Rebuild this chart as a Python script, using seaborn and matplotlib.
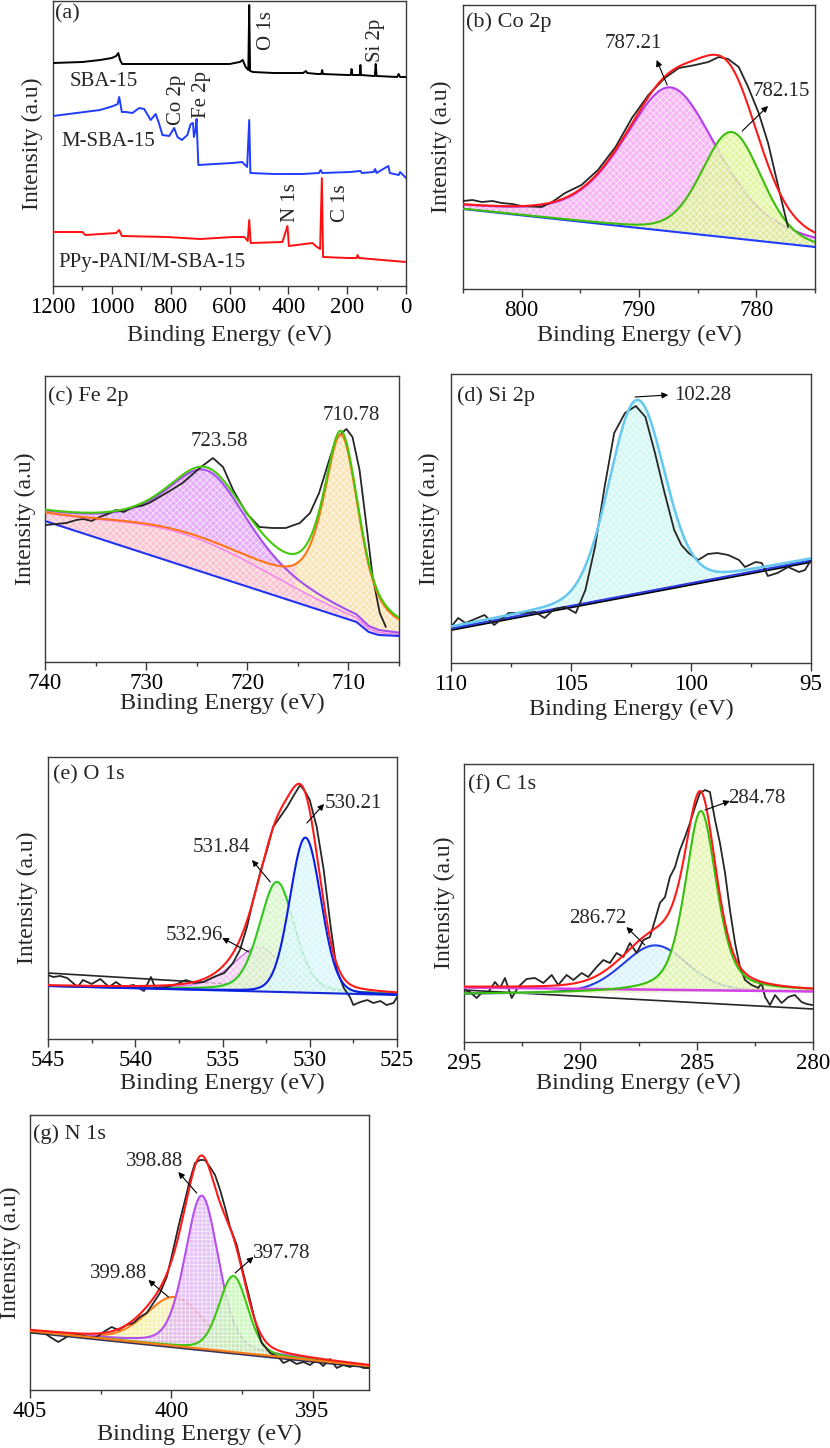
import numpy as np
import matplotlib
matplotlib.use("Agg")
import matplotlib.pyplot as plt
from matplotlib.ticker import MultipleLocator
import seaborn as sns

# ---------------- (a) survey spectra (binding energy eV, intensity a.u.)
sba_energy = [1200, 1100, 1040, 1000, 985, 978, 972, 965, 900, 800, 700, 600, 565, 555, 545, 536,
              533, 530, 520, 450, 350, 340, 336, 300, 288, 285, 282, 200, 188, 185, 182, 160, 157,
              155, 153, 110, 106, 103, 100, 30, 25, 20, 0]
sba_counts = [223, 224, 226, 228, 230, 233, 226, 222, 222, 222, 222, 222, 224, 226, 219, 216,
              281, 215, 214, 213, 213, 215, 213, 212, 212, 216, 212, 211, 211, 217, 211, 211, 211,
              221, 211, 210, 210, 222, 210, 209, 212, 209, 209]

msba_energy = [1200, 1040, 995, 980, 975, 966, 952, 930, 907, 890, 868, 851, 840, 828, 805, 788,
               777, 762, 743, 732, 724, 721, 715, 712, 706, 650, 591, 557, 540, 533, 529, 450,
               350, 296, 290, 285, 190, 155, 150, 110, 105, 100, 66, 60, 55, 25, 20, 0]
msba_counts = [170, 176, 180, 182, 189, 174, 174, 173, 178, 177, 166, 172, 163, 151, 150, 158,
               149, 146, 151, 162, 163, 149, 157, 167, 121, 122, 123, 124, 119, 166, 113, 112,
               112, 113, 116, 113, 114, 115, 113, 114, 117, 113, 119, 120, 113, 111, 114, 108]

ppy_energy = [1200, 1100, 1090, 985, 975, 966, 813, 700, 587, 549, 538, 533, 528, 420, 403, 398,
              318, 307, 292, 286, 282, 200, 168, 165, 160, 0]
ppy_counts = [54, 54, 51, 53, 56, 50, 49, 47, 49, 49, 45, 66, 43, 44, 60, 40,
              43, 40, 37, 108, 29, 28, 28, 31, 28, 24]

survey_names = ["SBA-15", "M-SBA-15", "PPy-PANI/M-SBA-15"]
survey_peaks = ["O 1s", "Si 2p", "Co 2p", "Fe 2p", "N 1s", "C 1s"]

# ---------------- (b) Co 2p
b_energy = [805.0, 804.2, 803.4, 802.5, 801.7, 800.8, 800.0, 798.3, 797.4, 796.3, 794.9, 793.5,
            792.0, 790.6, 789.2, 787.8, 786.6, 785.2, 784.1, 783.2, 782.4, 781.5, 780.7, 779.8,
            779.0, 778.4, 777.8, 777.3]
b_counts = [88, 89, 87, 88, 86, 85, 83, 82, 87, 96, 104, 119, 142, 171, 194, 211, 221, 224, 227,
            232, 230, 222, 202, 176, 146, 116, 86, 62]
b_bg = [80, 42]
b_centers = [787.3, 782.1]
b_heights = [144, 106]
b_fwhm = [9.6, 6.0]
b_mix = [0.45, 0.2]

# ---------------- (c) Fe 2p
c_energy = [739.9, 737.9, 736.9, 736.2, 735.4, 734.6, 733.8, 733.0, 732.2, 731.3, 730.5, 729.7,
            728.0, 726.4, 724.7, 723.4, 722.4, 721.4, 720.1, 718.8, 717.5, 716.2, 714.8, 713.8,
            712.9, 711.9, 711.2, 710.2, 709.6, 708.9, 708.2, 707.6, 706.9, 706.3]
c_counts = [137, 139, 142, 143, 141, 145, 148, 152, 150, 155, 156, 159, 169, 179, 194, 204, 195,
            172, 149, 135, 134, 134, 139, 149, 169, 202, 224, 233, 225, 192, 135, 85, 49, 35]
c_bg_energy = [740, 709.2, 708.0, 707.0, 705.0]
c_bg_counts = [141, 40, 30, 27, 26]
c_centers = [710.7, 726.0, 723.9]     # 2p3/2, broad hump, 2p1/2
c_heights = [176, 32, 72]
c_fwhm = [4.2, 20.0, 9.0]
c_mix = [0.7, 0.0, 0.5]

# ---------------- (d) Si 2p
d_energy = [110.0, 109.7, 109.4, 109.0, 108.6, 108.2, 107.6, 107.1, 106.5, 106.1, 105.7, 105.25,
            104.8, 104.4, 104.0, 103.6, 103.2, 102.75, 102.3, 101.9, 101.5, 101.1, 100.7, 100.4,
            100.1, 99.7, 99.3, 98.9, 98.45, 98.0, 97.75, 97.3, 97.05, 96.8, 96.4, 95.95, 95.5,
            95.25, 95.0]
d_counts = [36, 45, 40, 44, 48, 38, 50, 50, 51, 45, 54, 56, 50, 73, 116, 176, 230, 250, 257, 246,
            210, 170, 133, 118, 110, 103, 109, 110, 108, 103, 96, 101, 100, 87, 90, 96, 91, 93, 103]
d_bg = [36, 104]
d_center, d_height, d_fwhm_val, d_mix_val = 102.26, 192, 2.7, 0.1

# ---------------- (e) O 1s
e_energy = [545.0, 544.7, 544.3, 543.9, 543.3, 543.0, 542.5, 542.0, 541.5, 541.1, 540.7, 540.1,
            539.5, 539.1, 538.85, 538.2, 537.6, 537.1, 536.65, 536.1, 535.5, 534.9, 534.4, 534.0,
            533.6, 533.2, 532.8, 532.45, 532.1, 531.7, 531.3, 530.9, 530.55, 530.25, 530.0, 529.6,
            529.2, 528.8, 528.45, 528.05, 527.7, 527.5, 527.1, 526.7, 526.35, 525.95, 525.6, 525.2,
            525.0]
e_counts = [64, 62, 63, 61, 52, 59, 55, 60, 52, 57, 52, 54, 48, 62, 51, 52, 55, 59, 56, 57, 62, 66,
            76, 89, 112, 142, 169, 189, 212, 222, 232, 244, 254, 247, 239, 212, 169, 112, 69, 51,
            42, 34, 37, 39, 36, 38, 34, 36, 42]
e_bg = [53, 44]
e_centers = [530.25, 531.88, 532.93]
e_heights = [155, 110, 44]
e_fwhm = [2.1, 2.4, 3.6]
e_mix = [0.1, 0.3, 0.5]

# ---------------- (f) C 1s
f_energy = [295.0, 294.74, 294.46, 294.24, 293.95, 293.67, 293.45, 293.24, 292.95, 292.67, 292.31,
            291.95, 291.59, 291.23, 290.95, 290.59, 290.30, 289.94, 289.66, 289.30, 289.01, 288.73,
            288.44, 288.15, 287.87, 287.58, 287.29, 287.01, 286.79, 286.58, 286.36, 286.15, 285.93,
            285.72, 285.50, 285.29, 285.07, 284.86, 284.64, 284.43, 284.21, 284.0, 283.78, 283.57,
            283.35, 283.14, 282.92, 282.64, 282.35, 282.21, 282.06, 281.85, 281.63, 281.35, 281.06,
            280.78, 280.49, 280.27, 280.03]
f_counts = [52, 50, 44, 49, 50, 60, 54, 64, 44, 55, 63, 64, 59, 67, 57, 67, 62, 69, 65, 75, 82, 79,
            89, 85, 99, 89, 102, 105, 122, 139, 145, 165, 175, 192, 205, 219, 235, 249, 252, 250,
            222, 199, 169, 132, 99, 75, 62, 57, 54, 59, 45, 37, 47, 39, 45, 47, 40, 38, 37]
f_bg = [48, 51]
f_top_bg = [54.5, 50.5]
f_raw_bg = [52, 33]
f_centers = [284.82, 286.79]
f_heights = [181, 47]
f_fwhm = [1.6, 3.3]
f_mix = [0.5, 0.2]

# ---------------- (g) N 1s
g_energy = [405.0, 404.76, 404.53, 404.29, 404.0, 403.76, 403.53, 403.23, 402.94, 402.64, 402.40,
            402.11, 401.87, 401.58, 401.34, 401.11, 400.87, 400.63, 400.40, 400.16, 399.99, 399.87,
            399.69, 399.51, 399.34, 399.16, 398.98, 398.81, 398.63, 398.45, 398.27, 398.10, 397.92,
            397.68, 397.45, 397.21, 397.04, 396.80, 396.50, 396.21, 396.03, 395.80, 395.56, 395.32,
            395.09, 394.85, 394.62, 394.38, 394.14, 393.91, 393.67, 393.44, 393.20, 393.01]
g_counts = [58, 57, 58, 53, 48, 52, 57, 55, 53, 53, 58, 63, 60, 65, 67, 73, 77, 87, 97, 113, 133,
            148, 170, 190, 210, 227, 230, 230, 223, 215, 200, 183, 163, 145, 117, 90, 70, 47, 37,
            33, 27, 30, 26, 28, 25, 30, 24, 31, 22, 25, 23, 26, 22, 22]
g_bg = [59, 24]
g_centers = [398.92, 397.80, 399.87]
g_heights = [153, 76, 49]
g_fwhm = [1.4, 1.2, 2.4]
g_mix = [0.3, 0.2, 0.2]

sns.set_theme(style="ticks")
plt.rcParams["font.family"] = ["Liberation Serif", "DejaVu Serif"]
plt.rcParams["hatch.linewidth"] = 0.5
plt.rcParams["axes.edgecolor"] = "#3a3a3a"
plt.rcParams["xtick.color"] = "#3a3a3a"
plt.rcParams["xtick.labelcolor"] = "black"

RED = "#ff1a1a"
RAW = "#262626"


def pvoigt(x, center, height, fwhm, eta):
    g = np.exp(-4 * np.log(2) * ((x - center) / fwhm) ** 2)
    l = 1 / (1 + (2 * (x - center) / fwhm) ** 2)
    return height * ((1 - eta) * g + eta * l)


def line(ax, x, y, color, lw=1.5, z=4):
    sns.lineplot(x=np.asarray(x), y=np.asarray(y), ax=ax, color=color, linewidth=lw,
                 estimator=None, sort=False, legend=False, zorder=z)


def fill(ax, x, lo, hi, color, z=1, hatch="xxxxx", where=None):
    ax.fill_between(x, lo, hi, where=where, facecolor=color, edgecolor="white", hatch=hatch,
                    linewidth=0, alpha=0.8, zorder=z)


def arrow(ax, tail, head):
    ax.annotate("", xy=head, xytext=tail,
                arrowprops=dict(arrowstyle="-|>", color="black", lw=0.8, mutation_scale=9,
                                shrinkA=0, shrinkB=0), zorder=8)


def style(ax, xlim, ylim, major, minor, title, tx, ty, ylab_x, xpad):
    ax.set_xlim(*xlim)
    ax.set_ylim(*ylim)
    ax.set_yticks([])
    ax.xaxis.set_major_locator(MultipleLocator(major))
    ax.xaxis.set_minor_locator(MultipleLocator(minor))
    ax.tick_params(axis="x", which="major", length=6, width=1, direction="out", labelsize=16.5, pad=2)
    ax.tick_params(axis="x", which="minor", length=3, width=1, direction="out")
    for s in ax.spines.values():
        s.set_linewidth(1.0)
    ax.set_xlabel("Binding Energy (eV)", fontsize=17.5, labelpad=xpad)
    ax.set_ylabel("Intensity (a.u)", fontsize=17, va="center")
    ax.yaxis.set_label_coords(ylab_x, 0.5)
    ax.text(tx, ty, title, transform=ax.transAxes, fontsize=16, ha="left", va="top", zorder=9)


W, H = 830, 1448
fig = plt.figure(figsize=(W / 100, H / 100), dpi=100)


def make_axes(x0, x1, y0, y1):
    return fig.add_axes([x0 / W, 1 - y1 / H, (x1 - x0) / W, (y1 - y0) / H])


# ---------------- (a)
ax = make_axes(53, 406, 1, 286)
line(ax, sba_energy, sba_counts, "black", lw=1.4)
line(ax, msba_energy, msba_counts, "#1f3cff", lw=1.4)
line(ax, ppy_energy, ppy_counts, "#ff1010", lw=1.4)
for name, xx, yy in zip(survey_names, [1142, 1173, 1183], [205, 144, 24]):
    ax.text(xx, yy, name, fontsize=15, ha="left", va="center")
for name, xx, yy in zip(survey_peaks, [473, 105, 779, 694, 394, 224], [236, 224, 161, 168, 64, 64]):
    ax.text(xx, yy, name, fontsize=15, rotation=90, ha="center", va="bottom")
style(ax, (1200, 0), (0, 285), 200, 100, "(a)", 0.006, 0.99, -0.057, 5)

# ---------------- (b)
ax = make_axes(463, 815, 5, 289)
xb = np.linspace(805, 775, 700)
bgb = np.interp(xb, [775, 805], b_bg[::-1])
pb = [pvoigt(xb, c, h, w, m) for c, h, w, m in zip(b_centers, b_heights, b_fwhm, b_mix)]
fill(ax, xb, bgb, bgb + pb[0], "#f7a3f0", z=1)
line(ax, xb, bgb + pb[0], "#b53cf2", z=1.5)
fill(ax, xb, bgb, bgb + pb[1], "#daf58e", z=2)
line(ax, xb, bgb, "#1f3cff", z=2.5)
line(ax, xb, bgb + pb[1], "#3cbf0a", z=3)
line(ax, b_energy, b_counts, RAW, lw=1.3, z=3.5)
line(ax, xb, bgb + pb[0] + pb[1], RED, z=4)
ax.text(790.5, 245, "787.21", fontsize=15, ha="center", va="center")
arrow(ax, (787.6, 204), (788.5, 229))
ax.text(777.85, 198, "782.15", fontsize=15, ha="center", va="center")
arrow(ax, (781.2, 158), (779.0, 183))
style(ax, (805, 775), (0, 284), 10, 5, "(b) Co 2p", 0.008, 0.975, -0.06, 3)

# ---------------- (c)
ax = make_axes(45, 399, 376, 662)
xc = np.linspace(740, 705, 700)
bgc = np.interp(xc, c_bg_energy[::-1], c_bg_counts[::-1])
main, hump, p12 = [pvoigt(xc, c, h, w, m) for c, h, w, m in zip(c_centers, c_heights, c_fwhm, c_mix)]
pink = bgc + hump
orange = bgc + hump + main
purple = bgc + hump + p12
envelope = bgc + hump + main + p12
fill(ax, xc, bgc, pink, "#fbb6c6", z=1)
fill(ax, xc, pink, orange, "#fbb6c6", z=1, where=xc >= 715)
fill(ax, xc, pink, orange, "#f9dfa6", z=1.2, where=xc <= 715.3)
fill(ax, xc, orange, purple, "#e29bf7", z=1.4, where=purple >= orange)
line(ax, xc, pink, "#f27ef0", lw=1.0, z=1.6)
line(ax, xc, bgc, "#2233ee", z=2)
line(ax, xc, purple, "#a54ff2", z=2.5)
line(ax, c_energy, c_counts, RAW, lw=1.3, z=3)
line(ax, xc, orange, "#ff7417", z=3.5)
line(ax, xc, envelope, "#44c80a", z=4)
ax.text(722.8, 220, "723.58", fontsize=15, ha="center", va="center")
ax.text(709.7, 247, "710.78", fontsize=15, ha="center", va="center")
style(ax, (740, 705), (0, 286), 10, 5, "(c) Fe 2p", 0.009, 0.965, -0.0565, -1)

# ---------------- (d)
ax = make_axes(451, 811, 374, 663)
xd = np.linspace(110, 95, 600)
bgd = np.interp(xd, [95, 110], d_bg[::-1])
pd_ = pvoigt(xd, d_center, d_height, d_fwhm_val, d_mix_val)
fill(ax, xd, bgd, bgd + pd_, "#c9f6f0", z=1)
line(ax, xd, bgd - 3, "black", z=2)
line(ax, xd, bgd - 1.5, "#2a3ce0", z=2.2)
line(ax, d_energy, d_counts, RAW, lw=1.3, z=3)
line(ax, xd, bgd + pd_, "#66c8ee", lw=1.8, z=4)
ax.text(99.52, 268, "102.28", fontsize=15, ha="center", va="center")
arrow(ax, (102.33, 266), (100.95, 268))
style(ax, (110, 95), (0, 289), 5, 2.5, "(d) Si 2p", 0.016, 0.958, -0.061, 3)

# ---------------- (e)
ax = make_axes(48, 397, 757, 1039)
xe = np.linspace(545, 525, 700)
bge = np.interp(xe, [525, 545], e_bg[::-1])
pe = [pvoigt(xe, c, h, w, m) for c, h, w, m in zip(e_centers, e_heights, e_fwhm, e_mix)]
line(ax, xe, np.interp(xe, [525, 545], [45, 66]), RAW, lw=1.2, z=0.8)
fill(ax, xe, bge, bge + pe[2], "#f6c2f4", z=1)
line(ax, xe, bge + pe[2], "#d27ff0", lw=1.2, z=1.5)
fill(ax, xe, bge, bge + pe[1], "#d4f6c2", z=2)
line(ax, xe, bge + pe[1], "#2ec81e", z=2.5)
fill(ax, xe, bge, bge + pe[0], "#d2f6fb", z=3)
line(ax, e_energy, e_counts, RAW, lw=1.3, z=3.2)
line(ax, xe, bge, "#1428d8", z=3.4)
line(ax, xe, bge + pe[0], "#0a1ee6", z=3.5)
line(ax, xe, bge + pe[0] + pe[1] + pe[2], RED, z=4)
ax.text(527.49, 236, "530.21", fontsize=15, ha="center", va="center")
arrow(ax, (530.17, 216), (529.18, 235))
ax.text(535.07, 191, "531.84", fontsize=15, ha="center", va="center")
arrow(ax, (532.26, 157), (533.31, 179))
ax.text(536.62, 103, "532.96", fontsize=15, ha="center", va="center")
arrow(ax, (533.49, 87), (535.02, 101))
style(ax, (545, 525), (0, 282), 5, 2.5, "(e) O 1s", 0.015, 0.97, -0.06, 1)

# ---------------- (f)
ax = make_axes(464, 813, 764, 1042)
xf = np.linspace(295, 280, 600)
bgf = np.interp(xf, [280, 295], f_bg[::-1])
topf = np.interp(xf, [280, 295], f_top_bg[::-1])
pf = [pvoigt(xf, c, h, w, m) for c, h, w, m in zip(f_centers, f_heights, f_fwhm, f_mix)]
line(ax, xf, np.interp(xf, [280, 295], f_raw_bg[::-1]), RAW, lw=1.2, z=0.8)
fill(ax, xf, bgf, bgf + pf[1], "#d3f1fd", z=1)
line(ax, xf, bgf + pf[1], "#2740e0", z=1.5)
fill(ax, xf, bgf, bgf + pf[0], "#e3f5a6", z=2)
line(ax, f_energy, f_counts, RAW, lw=1.3, z=2.6)
line(ax, xf, topf, "#d640e8", lw=1.8, z=2.8)
line(ax, xf, bgf + pf[0], "#38bf0c", z=3)
line(ax, xf, topf + pf[0] + pf[1], RED, z=4)
ax.text(282.42, 244, "284.78", fontsize=15, ha="center", va="center")
arrow(ax, (284.64, 232), (283.57, 241))
ax.text(289.23, 124, "286.72", fontsize=15, ha="center", va="center")
arrow(ax, (287.23, 97), (288.02, 115))
style(ax, (295, 280), (0, 278), 5, 2.5, "(f) C 1s", 0.012, 0.962, -0.057, -1)

# ---------------- (g)
ax = make_axes(30, 369, 1115, 1390)
xg = np.linspace(405, 393, 600)
bgg = np.interp(xg, [393, 405], g_bg[::-1])
pg = [pvoigt(xg, c, h, w, m) for c, h, w, m in zip(g_centers, g_heights, g_fwhm, g_mix)]
line(ax, xg, bgg - 1, "#33335a", lw=2.2, z=0.9)
fill(ax, xg, bgg, bgg + pg[2], "#f6ee9c", z=1, hatch="++++")
line(ax, xg, bgg + pg[2], "#ff7c18", z=1.5)
fill(ax, xg, bgg, bgg + pg[0], "#e1b6f6", z=2, hatch="++++")
line(ax, xg, bgg + pg[0], "#b44ff0", z=2.5)
fill(ax, xg, bgg, bgg + pg[1], "#c6f5b4", z=2.7, hatch="++++")
line(ax, xg, bgg + pg[1], "#3cc810", z=2.9)
line(ax, g_energy, g_counts, RAW, lw=1.3, z=3)
line(ax, xg, bgg, "#ff7c18", z=3.4)
line(ax, xg, bgg + pg[0] + pg[1] + pg[2], RED, z=4)
ax.text(400.59, 229, "398.88", fontsize=15, ha="center", va="center")
arrow(ax, (399.1, 197), (399.75, 218))
ax.text(396.1, 136, "397.78", fontsize=15, ha="center", va="center")
arrow(ax, (397.74, 117), (397.09, 133))
ax.text(401.86, 117, "399.88", fontsize=15, ha="center", va="center")
arrow(ax, (400.1, 93), (400.81, 110))
style(ax, (405, 393), (0, 275), 5, 2.5, "(g) N 1s", 0.01, 0.966, -0.059, 1.5)

fig.savefig("out.png", dpi=100)
